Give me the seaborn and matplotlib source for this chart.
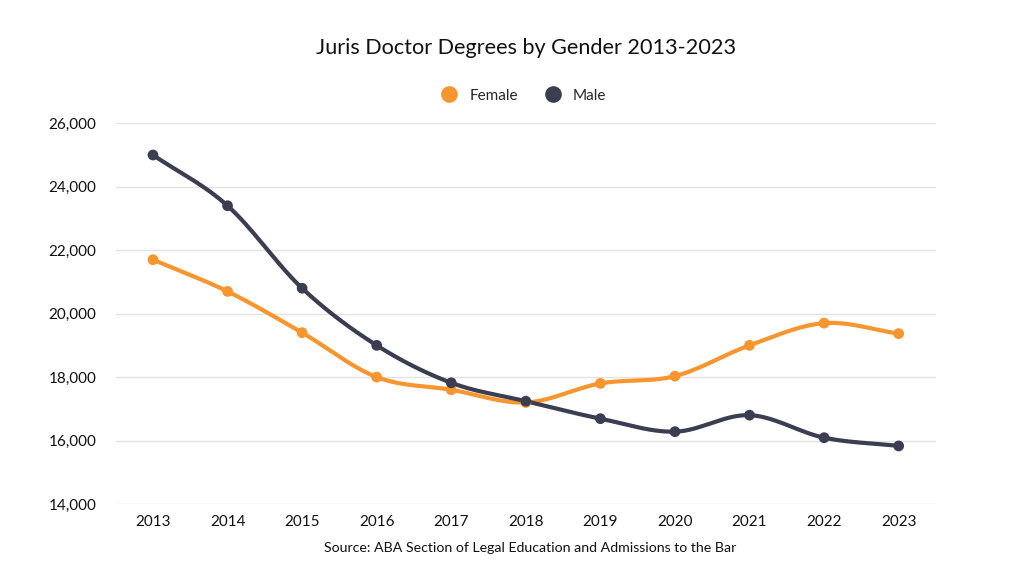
import numpy as np
import pandas as pd
import matplotlib
matplotlib.use("Agg")
import matplotlib.pyplot as plt
import seaborn as sns
from matplotlib.ticker import FuncFormatter
from matplotlib.lines import Line2D

# --- Daten ---
years = [2013, 2014, 2015, 2016, 2017, 2018, 2019, 2020, 2021, 2022, 2023]
female = [21700, 20700, 19400, 18000, 17600, 17200, 17800, 18030, 19000, 19700, 19370]
male = [25000, 23400, 20800, 19000, 17820, 17240, 16690, 16280, 16800, 16090, 15830]

COLORS = {"Female": "#F7952F", "Male": "#3B3E51"}


def smooth_line(x, y, steps=30):
    """Catmull-Rom Kurve nur fuer die Darstellung der Linie."""
    x = np.asarray(x, float)
    y = np.asarray(y, float)
    px = np.concatenate([[2 * x[0] - x[1]], x, [2 * x[-1] - x[-2]]])
    py = np.concatenate([[2 * y[0] - y[1]], y, [2 * y[-1] - y[-2]]])
    t = np.linspace(0, 1, steps)
    xs, ys = [], []
    for i in range(1, len(px) - 2):
        for arr, out in ((px, xs), (py, ys)):
            p0, p1, p2, p3 = arr[i - 1], arr[i], arr[i + 1], arr[i + 2]
            out.append(0.5 * ((2 * p1) + (-p0 + p2) * t
                              + (2 * p0 - 5 * p1 + 4 * p2 - p3) * t ** 2
                              + (-p0 + 3 * p1 - 3 * p2 + p3) * t ** 3))
    return np.concatenate(xs), np.concatenate(ys)


df = pd.DataFrame({
    "year": years * 2,
    "value": female + male,
    "gender": ["Female"] * len(years) + ["Male"] * len(years),
})

sns.set_theme(style="white")
plt.rcParams["font.family"] = ["Lato", "DejaVu Sans"]

fig = plt.figure(figsize=(10.24, 5.76), dpi=100)
ax = fig.add_axes([0.113, 0.125, 0.801, 0.661])

for g in ["Female", "Male"]:
    sub = df[df["gender"] == g]
    sx, sy = smooth_line(sub["year"], sub["value"])
    sns.lineplot(x=sx, y=sy, ax=ax, color=COLORS[g], linewidth=3, sort=False, zorder=2)
    sns.scatterplot(x=sub["year"], y=sub["value"], ax=ax, color=COLORS[g], s=60,
                    edgecolor="none", zorder=3)

ax.set_xlim(2012.5, 2023.5)
ax.set_ylim(14000, 26000)
ax.set_yticks(np.arange(14000, 26001, 2000))
ax.set_xticks(years)
ax.yaxis.set_major_formatter(FuncFormatter(lambda v, p: f"{int(v):,}"))
ax.grid(axis="y", color="#E3E3E3", linewidth=1)
ax.grid(axis="x", visible=False)
for s in ax.spines.values():
    s.set_visible(False)
ax.tick_params(axis="both", length=0, labelsize=11, colors="#111111")
ax.tick_params(axis="y", pad=14)
ax.tick_params(axis="x", pad=8)
ax.set_xlabel("")
ax.set_ylabel("")

fig.text(0.514, 0.917, "Juris Doctor Degrees by Gender 2013-2023", ha="center",
         va="center", fontsize=15.6, color="#111111")
fig.text(0.518, 0.049, "Source: ABA Section of Legal Education and Admissions to the Bar",
         ha="center", va="center", fontsize=10.2, color="#111111")

handles = [Line2D([0], [0], marker="o", linestyle="none", markersize=12,
                  markerfacecolor=COLORS[g], markeredgecolor="none") for g in ["Female", "Male"]]
fig.legend(handles, ["Female", "Male"], loc="center", bbox_to_anchor=(0.508, 0.834),
           ncol=2, frameon=False, fontsize=11, handletextpad=0.3, columnspacing=1.3)

fig.savefig("out.png", dpi=100, facecolor="white")
